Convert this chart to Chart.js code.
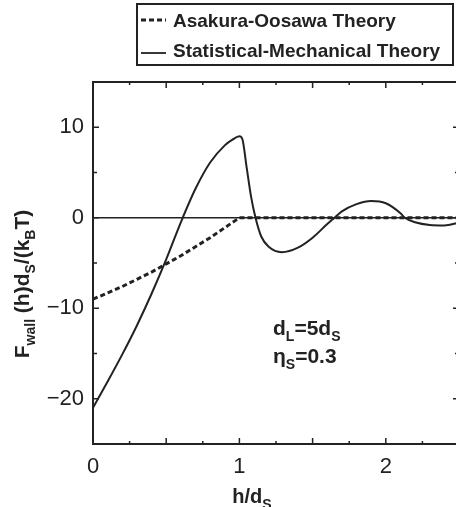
<!DOCTYPE html>
<html>
<head>
<meta charset="utf-8">
<script src="https://cdn.jsdelivr.net/npm/chart.js@4/dist/chart.umd.min.js"></script>
<style>
  html, body { margin: 0; padding: 0; background: #fff; overflow: hidden; }
  #wrap { width: 456px; height: 507px; overflow: hidden; }
</style>
</head>
<body>
<div id="wrap"><canvas id="wallForce" width="460" height="507"></canvas></div>
<script>
// h/dS positions and force values
const aoH = [0, 0.1, 0.2, 0.3, 0.4, 0.5, 0.6, 0.7, 0.8, 0.9, 1.0, 2.5];
const aoForce = [-9, -8.3, -7.6, -6.8, -6.0, -5.1, -4.2, -3.2, -2.2, -1.1, 0, 0];

const smH = [0, 0.1, 0.2, 0.3, 0.4, 0.5, 0.6, 0.7, 0.8, 0.9, 0.95, 1.0, 1.02, 1.05, 1.08, 1.11,
  1.15, 1.2, 1.29, 1.4, 1.5, 1.6, 1.65, 1.7, 1.8, 1.9, 2.0, 2.1, 2.13, 2.2, 2.3, 2.4, 2.5];
const smForce = [-21, -18.1, -15.1, -11.9, -8.4, -4.6, -0.5, 3.2, 6.1, 8.0, 8.6, 9.0, 8.7, 5.5, 2.3, 0,
  -2.1, -3.2, -3.8, -3.3, -2.2, -0.7, 0, 0.7, 1.5, 1.85, 1.6, 0.5, 0, -0.5, -0.8, -0.85, -0.55];

const seriesLabels = ['Asakura-Oosawa Theory', 'Statistical-Mechanical Theory'];

const xTickLabels = [0, 1, 2];
const yTickLabels = [-20, -10, 0, 10];
const xMajorTicks = [0.5, 1, 1.5, 2];
const xMinorTicks = [0.25, 0.75, 1.25, 1.75, 2.25];
const yMajorTicks = [-20, -10, 0, 10];
const yMinorTicks = [-15, -5, 5];

const ink = '#222';
const fontFamily = '"Liberation Sans", Arial, Helvetica, sans-serif';

const toPoints = (xs, ys) => xs.map((x, i) => ({ x: x, y: ys[i] }));

// draws a row of text pieces, some of them as subscripts
function drawRich(ctx, parts, x, y, size) {
  let cx = x;
  parts.forEach(([text, sub]) => {
    ctx.font = 'bold ' + (sub ? Math.round(size * 0.68) : size) + 'px ' + fontFamily;
    ctx.fillText(text, cx, sub ? y + size * 0.28 : y);
    cx += ctx.measureText(text).width;
  });
  return cx - x;
}

function richWidth(ctx, parts, size) {
  let w = 0;
  parts.forEach(([text, sub]) => {
    ctx.font = 'bold ' + (sub ? Math.round(size * 0.68) : size) + 'px ' + fontFamily;
    w += ctx.measureText(text).width;
  });
  return w;
}

const framePlugin = {
  id: 'frame',
  afterDraw(chart) {
    const { ctx, chartArea: a, scales } = chart;
    const xs = scales.x, ys = scales.y;
    ctx.save();
    ctx.strokeStyle = ink;
    ctx.fillStyle = ink;

    // plot box
    ctx.lineWidth = 2;
    ctx.strokeRect(a.left, a.top, a.right - a.left, a.bottom - a.top);

    // inward ticks on all four sides
    ctx.lineWidth = 1.5;
    ctx.beginPath();
    const xTick = (v, len) => {
      const px = xs.getPixelForValue(v);
      ctx.moveTo(px, a.bottom); ctx.lineTo(px, a.bottom - len);
      ctx.moveTo(px, a.top); ctx.lineTo(px, a.top + len);
    };
    const yTick = (v, len) => {
      const py = ys.getPixelForValue(v);
      ctx.moveTo(a.left, py); ctx.lineTo(a.left + len, py);
      ctx.moveTo(a.right, py); ctx.lineTo(a.right - len, py);
    };
    xMajorTicks.forEach(v => xTick(v, 6));
    xMinorTicks.forEach(v => xTick(v, 3));
    yMajorTicks.forEach(v => yTick(v, 6));
    yMinorTicks.forEach(v => yTick(v, 4));
    ctx.stroke();

    ctx.textBaseline = 'alphabetic';
    ctx.textAlign = 'left';

    // x axis title
    const xTitle = [['h/d', false], ['S', true]];
    const xw = richWidth(ctx, xTitle, 20);
    drawRich(ctx, xTitle, 252 - xw / 2, 503, 20);

    // y axis title, rotated
    const yTitle = [['F', false], ['wall', true], [' (h)d', false], ['S', true], ['/(k', false], ['B', true], ['T)', false]];
    const yw = richWidth(ctx, yTitle, 21);
    ctx.save();
    ctx.translate(29, 284);
    ctx.rotate(-Math.PI / 2);
    drawRich(ctx, yTitle, -yw / 2, 0, 21);
    ctx.restore();

    // parameters inside the plot
    drawRich(ctx, [['d', false], ['L', true], ['=5d', false], ['S', true]], 273, 335, 21);
    drawRich(ctx, [['\u03b7', false], ['S', true], ['=0.3', false]], 273, 363, 21);

    // legend box
    ctx.lineWidth = 2;
    ctx.strokeRect(137, 4, 316, 61);
    ctx.lineWidth = 3;
    ctx.setLineDash([5, 3]);
    ctx.beginPath(); ctx.moveTo(141, 20); ctx.lineTo(166, 20); ctx.stroke();
    ctx.setLineDash([]);
    ctx.lineWidth = 1.8;
    ctx.beginPath(); ctx.moveTo(141, 53); ctx.lineTo(166, 53); ctx.stroke();
    ctx.font = 'bold 19px ' + fontFamily;
    ctx.fillText(seriesLabels[0], 173, 27);
    ctx.fillText(seriesLabels[1], 173, 57);

    ctx.restore();
  }
};

const ctx = document.getElementById('wallForce').getContext('2d');

new Chart(ctx, {
  type: 'line',
  data: {
    datasets: [
      {
        label: 'zero',
        data: toPoints([0, 2.5], [0, 0]),
        borderColor: ink,
        borderWidth: 1.5,
        pointRadius: 0,
        order: 3,
      },
      {
        label: seriesLabels[0],
        data: toPoints(aoH, aoForce),
        borderColor: ink,
        borderWidth: 3,
        borderDash: [5, 3],
        pointRadius: 0,
        tension: 0,
        order: 2,
      },
      {
        label: seriesLabels[1],
        data: toPoints(smH, smForce),
        borderColor: ink,
        borderWidth: 2,
        pointRadius: 0,
        cubicInterpolationMode: 'monotone',
        order: 1,
      },
    ],
  },
  options: {
    responsive: false,
    animation: false,
    devicePixelRatio: 1,
    layout: { padding: { top: 82, right: 1, left: 0, bottom: 0 } },
    plugins: {
      legend: { display: false },
      tooltip: { enabled: false },
    },
    scales: {
      x: {
        type: 'linear',
        min: 0,
        max: 2.5,
        grid: { display: false },
        border: { display: false },
        afterBuildTicks: (scale) => { scale.ticks = xTickLabels.map(v => ({ value: v })); },
        afterFit: (scale) => { scale.height = 63; },
        ticks: {
          color: ink,
          padding: 2,
          maxRotation: 0,
          font: { size: 22, family: fontFamily },
        },
      },
      y: {
        type: 'linear',
        min: -25,
        max: 15,
        grid: { display: false },
        border: { display: false },
        afterBuildTicks: (scale) => { scale.ticks = yTickLabels.map(v => ({ value: v })); },
        afterFit: (scale) => { scale.width = 93; },
        ticks: {
          color: ink,
          padding: 1,
          callback: (value) => (value < 0 ? '\u2212' + Math.abs(value) : String(value)),
          font: { size: 22, family: fontFamily },
        },
      },
    },
  },
  plugins: [framePlugin],
});
</script>
</body>
</html>
